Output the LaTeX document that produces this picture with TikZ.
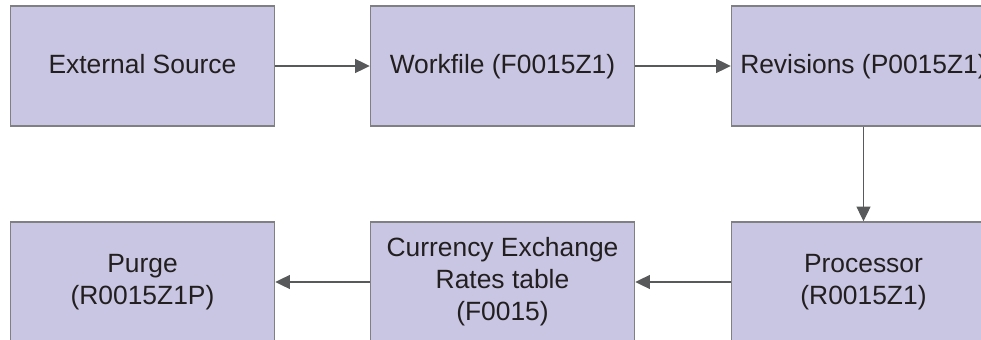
\documentclass[tikz,border=0pt]{standalone}
\usepackage{fontspec}
\setmainfont{Liberation Sans}
\usepackage{xcolor}
\usetikzlibrary{arrows.meta}

\definecolor{boxfill}{RGB}{200,198,226}
\definecolor{boxline}{RGB}{128,128,130}
\definecolor{flowline}{RGB}{88,89,91}
\definecolor{boxtext}{RGB}{35,31,32}

\tikzset{
    stage/.style={draw=boxline, line width=1.1pt, fill=boxfill,
        minimum width=198pt, minimum height=90pt, inner sep=0pt,
        align=center, text=boxtext,
        font=\fontsize{19.8}{24}\selectfont},
    oneline/.style={text height=14.4pt, text depth=3pt},
    flow/.style={draw=flowline, line width=0.8pt,
        -{Triangle[length=11pt,width=10.5pt]}, color=flowline}
}

\begin{document}
\begin{tikzpicture}[x=0.75pt, y=-0.75pt]
    \clip (0,0) rectangle (981,339);
    \useasboundingbox (0,0) rectangle (981,339);

    % top row
    \node[stage, oneline] (source) at (142.5,66) {External Source};
    \node[stage, oneline] (workfile) at (502.5,66) {Workfile (F0015Z1)};
    \node[stage, oneline] (revisions) at (863.5,66) {Revisions (P0015Z1)};

    % bottom row
    \node[stage] (purge) at (142.5,282) {Purge\\(R0015Z1P)};
    \node[stage] (rates) at (502.5,282) {Currency Exchange\\Rates table\\(F0015)};
    \node[stage] (processor) at (863.5,282) {Processor\\(R0015Z1)};

    % flow between stages
    \draw[flow] (source) -- (workfile);
    \draw[flow] (workfile) -- (revisions);
    \draw[flow] (revisions) -- (processor);
    \draw[flow] (processor) -- (rates);
    \draw[flow] (rates) -- (purge);
\end{tikzpicture}
\end{document}
